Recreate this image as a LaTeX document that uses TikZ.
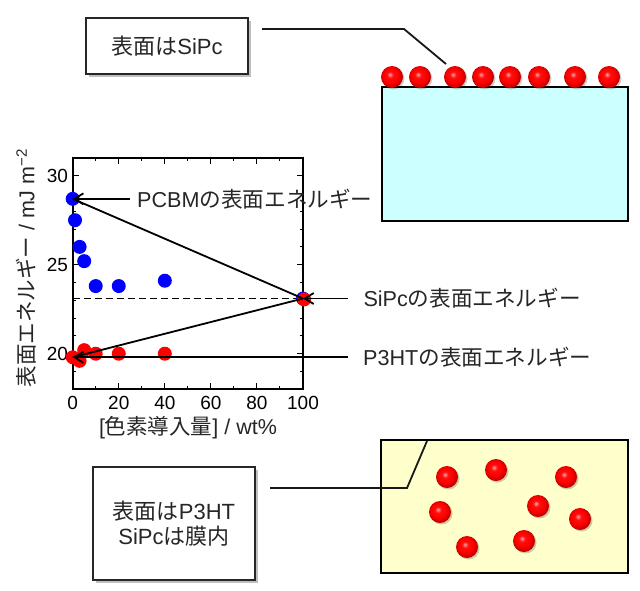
\documentclass[tikz,border=0pt]{standalone}
\usepackage{fontspec}
\setmainfont{Liberation Sans}
\newfontfamily\jp{Noto Sans CJK JP}
\usetikzlibrary{arrows.meta,shadows}
\definecolor{filmcyan}{RGB}{204,255,255}
\definecolor{filmyellow}{RGB}{255,255,204}
\pgfdeclareradialshading{redball}{\pgfqpoint{-5bp}{6bp}}{color(0bp)=(red!35!white); color(7bp)=(red!95!white); color(17bp)=(red); color(25bp)=(red!78!black); color(50bp)=(red!78!black)}
\begin{document}
\begin{tikzpicture}[x=1pt,y=-1pt,
  lbl/.style={anchor=west, inner sep=0pt, text=black!85, font=\fontsize{21.6}{25}\selectfont},
  tbox/.style={draw=black!85, line width=1.5pt, fill=white, align=center, text=black!85,
    font=\fontsize{22}{25}\selectfont, minimum width=162pt,
    drop shadow={shadow xshift=2.5pt, shadow yshift=-2.5pt, opacity=0.25, fill=black}},
  film/.style={draw=black, line width=2.8pt},
  lead/.style={line width=1.8pt, draw=black!90},
  arr/.style={line width=1.8pt, -{Straight Barb[length=9pt, width=11pt]}},
  bdot/.style={circle, fill=blue, inner sep=0pt, minimum size=14pt},
  rdot/.style={circle, fill=red, inner sep=0pt, minimum size=14pt},
  tk/.style={line width=1pt},
  ticklbl/.style={inner sep=0pt, font=\fontsize{19}{20}\selectfont},
  axlbl/.style={inner sep=0pt, font=\fontsize{21.5}{25}\selectfont, text=black!85}
]
\useasboundingbox (0,0) rectangle (640,590);

% ---- top film (SiPc on surface)
\path[film, fill=filmcyan] (382,87) rectangle (628,221);
\foreach \bx in {392,420,455,483,510,539,575,609} {
  \fill[black, opacity=0.2] (\bx+1.5,78.5) circle (11pt);
  \shade[shading=redball] (\bx,77) circle (11pt);
}

% ---- bottom film (SiPc inside)
\path[film, fill=filmyellow] (381,440) rectangle (628,573);
\foreach \bx/\by in {447/477,496/470,566/477,440/512,538/506,580/519,467/547,524/541} {
  \fill[black, opacity=0.2] (\bx+1.5,\by+1.5) circle (11pt);
  \shade[shading=redball] (\bx,\by) circle (11pt);
}

% ---- text boxes and leaders
\node[tbox, minimum height=56pt] (tb1) at (167,46) {{\jp 表面は}SiPc};
\node[tbox, minimum height=113pt] (tb2) at (174,523.5) {{\jp 表面は}P3HT\\SiPc{\jp は膜内}};
\coordinate (l1a) at (262,29);
\coordinate (l1b) at (404,29);
\coordinate (l1c) at (446,64);
\draw[lead] (l1a) -- (l1b) -- (l1c);
\coordinate (l2a) at (270,488);
\coordinate (l2b) at (407,488);
\coordinate (l2c) at (427,441);
\draw[lead] (l2a) -- (l2b) -- (l2c);

% ---- plot
\begin{scope}[shift={(72.7,709.7)}, x=2.303pt, y=17.8pt]
  \foreach \X in {10,30,50,70,90} {
    \draw[tk] (\X,18) -- ++(0pt,3.5pt);
    \draw[tk] (\X,31) -- ++(0pt,-3.5pt);
  }
  \foreach \X in {20,40,60,80} {
    \draw[tk] (\X,18) -- ++(0pt,6pt);
    \draw[tk] (\X,31) -- ++(0pt,-6pt);
  }
  \foreach \Y in {19,21,22,23,24,26,27,28,29} {
    \draw[tk] (0,\Y) -- ++(3.5pt,0pt);
    \draw[tk] (100,\Y) -- ++(-3.5pt,0pt);
  }
  \foreach \Y in {20,25,30} {
    \draw[tk] (0,\Y) -- ++(6pt,0pt);
    \draw[tk] (100,\Y) -- ++(-6pt,0pt);
    \node[ticklbl, anchor=east] at ([xshift=-4.5pt]0,\Y) {\Y};
  }
  \foreach \X in {0,20,40,60,80,100} {
    \node[ticklbl, anchor=north] at ([yshift=-7pt]\X,18) {\X};
  }
  \draw[line width=1.8pt] (0,18) rectangle (100,31);
  \draw[line width=1.7pt, dash pattern=on 7pt off 4pt] (0,23.1) -- (100,23.1);

  % blue (PCBM blend)
  \node[bdot] (b0) at (0,28.7) {};
  \node[bdot] (b1) at (1,27.5) {};
  \node[bdot] (b2) at (3,26.0) {};
  \node[bdot] (b3) at (5,25.2) {};
  \node[bdot] (b4) at (10,23.8) {};
  \node[bdot] (b5) at (20,23.8) {};
  \node[bdot] (b6) at (40,24.1) {};
  \node[bdot] (b7) at (100,23.1) {};
  % red (P3HT blend)
  \node[rdot] (r1) at (3,19.6) {};
  \node[rdot] (r0) at (0,19.8) {};
  \node[rdot] (r2) at (5,20.2) {};
  \node[rdot] (r3) at (10,20.0) {};
  \node[rdot] (r4) at (20,20.0) {};
  \node[rdot] (r5) at (40,20.0) {};
  \node[rdot] (r6) at (100.5,23.05) {};
  \coordinate (sp) at (100,23.1);

  \draw[line width=1.8pt] (sp) -- (b0.center);
  \draw[line width=1.8pt] (sp) -- (r0.center);
\end{scope}

% ---- value labels
\node[lbl] (pcbm) at ([xshift=64.3pt]b0.center) {PCBM{\jp の表面エネルギー}};
\draw[arr] ([xshift=-7pt]pcbm.west) -- (b0.center);
\node[lbl] (sipc) at ([xshift=60.3pt]sp) {SiPc{\jp の表面エネルギー}};
\draw[arr] ([xshift=-15pt]sipc.west) -- (sp);
\node[lbl] (p3ht) at ([xshift=290.3pt]r0.center) {P3HT{\jp の表面エネルギー}};
\draw[arr] ([xshift=-15pt]p3ht.west) -- (r0.center);

% ---- axis labels
\node[axlbl, rotate=90] (ylab) at (26,268) {{\jp 表面エネルギー} / mJ m\textsuperscript{−2}};
\node[axlbl] (xlab) at (188,428) {[{\jp 色素導入量}] / wt\%};
\end{tikzpicture}
\end{document}
